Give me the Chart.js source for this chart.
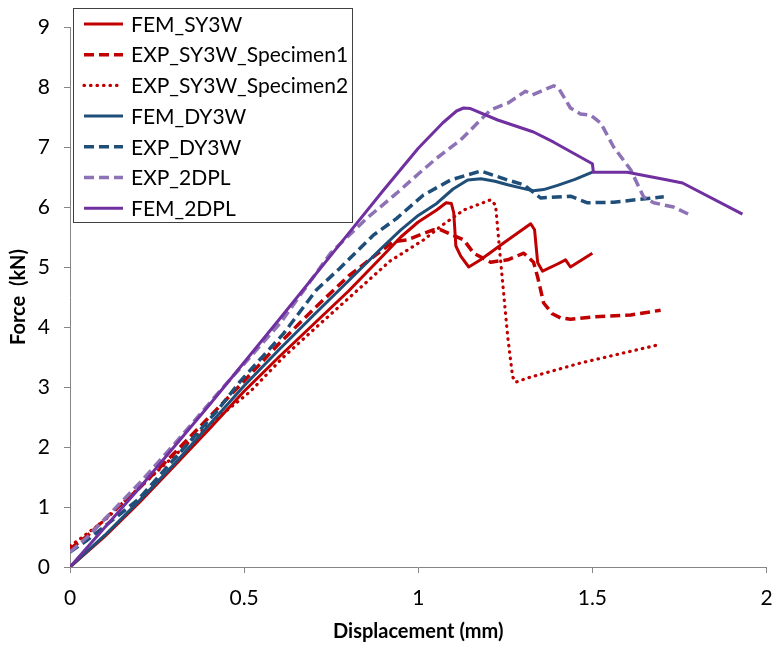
<!DOCTYPE html>
<html>
<head>
<meta charset="utf-8">
<script src="https://cdn.jsdelivr.net/npm/chart.js@4/dist/chart.umd.min.js"></script>
<style>
  html, body { margin: 0; padding: 0; background: #ffffff; }
  #wrap { width: 774px; height: 647px; }
</style>
</head>
<body>
<div id="wrap"><canvas id="c" width="774" height="647"></canvas></div>
<script>
// ---- Data ----
const seriesNames = ["FEM_SY3W", "EXP_SY3W_Specimen1", "EXP_SY3W_Specimen2", "FEM_DY3W", "EXP_DY3W", "EXP_2DPL", "FEM_2DPL"];

const femSY3W_x = [0, 0.1, 0.2, 0.3, 0.4, 0.5, 0.6, 0.7, 0.8, 0.892, 0.95, 1.0, 1.053, 1.08, 1.095, 1.102, 1.108, 1.122, 1.145, 1.179, 1.25, 1.323, 1.334, 1.343, 1.357, 1.40, 1.423, 1.437, 1.50];
const femSY3W_y = [0, 0.51, 1.08, 1.69, 2.30, 2.93, 3.50, 4.05, 4.60, 5.15, 5.50, 5.75, 5.95, 6.07, 6.06, 5.90, 5.35, 5.18, 5.00, 5.12, 5.42, 5.72, 5.62, 5.07, 4.93, 5.05, 5.12, 5.00, 5.23];

const expSY3W1_x = [0, 0.05, 0.1, 0.2, 0.3, 0.4, 0.5, 0.6, 0.7, 0.8, 0.871, 0.928, 0.967, 1.043, 1.065, 1.099, 1.131, 1.159, 1.208, 1.257, 1.303, 1.331, 1.343, 1.36, 1.385, 1.409, 1.437, 1.504, 1.61, 1.696];
const expSY3W1_y = [0.30, 0.52, 0.80, 1.32, 1.90, 2.50, 3.10, 3.72, 4.30, 4.85, 5.17, 5.42, 5.45, 5.62, 5.62, 5.53, 5.45, 5.23, 5.08, 5.12, 5.23, 5.08, 4.83, 4.40, 4.22, 4.15, 4.13, 4.17, 4.20, 4.28];

const expSY3W2_x = [0, 0.02, 0.1, 0.166, 0.318, 0.367, 0.517, 0.613, 0.727, 0.823, 0.919, 1.015, 1.065, 1.131, 1.208, 1.222, 1.237, 1.257, 1.271, 1.28, 1.314, 1.466, 1.687];
const expSY3W2_y = [0.35, 0.43, 0.78, 1.15, 1.95, 2.22, 2.92, 3.50, 4.10, 4.60, 5.10, 5.45, 5.68, 5.95, 6.12, 6.03, 5.07, 3.83, 3.17, 3.08, 3.15, 3.40, 3.70];

const femDY3W_x = [0, 0.1, 0.2, 0.3, 0.4, 0.5, 0.6, 0.7, 0.8, 0.892, 0.95, 1.0, 1.053, 1.10, 1.142, 1.18, 1.22, 1.257, 1.30, 1.331, 1.36, 1.40, 1.45, 1.50];
const femDY3W_y = [0, 0.53, 1.11, 1.72, 2.37, 3.02, 3.62, 4.20, 4.77, 5.30, 5.62, 5.86, 6.06, 6.30, 6.45, 6.47, 6.43, 6.37, 6.31, 6.27, 6.29, 6.36, 6.46, 6.58];

const expDY3W_x = [0, 0.05, 0.195, 0.425, 0.488, 0.613, 0.708, 0.775, 0.871, 0.938, 1.015, 1.093, 1.179, 1.257, 1.303, 1.351, 1.437, 1.486, 1.561, 1.705];
const expDY3W_y = [0.25, 0.45, 1.12, 2.62, 3.09, 3.89, 4.62, 4.98, 5.53, 5.81, 6.20, 6.45, 6.60, 6.45, 6.37, 6.15, 6.18, 6.07, 6.08, 6.17];

const exp2DPL_x = [0, 0.05, 0.1, 0.2, 0.3, 0.433, 0.603, 0.748, 0.85, 0.938, 1.0, 1.05, 1.122, 1.208, 1.257, 1.308, 1.328, 1.389, 1.403, 1.437, 1.466, 1.495, 1.524, 1.561, 1.61, 1.647, 1.676, 1.733, 1.776];
const exp2DPL_y = [0.25, 0.50, 0.80, 1.40, 2.05, 2.95, 4.06, 5.23, 5.80, 6.23, 6.55, 6.80, 7.12, 7.62, 7.73, 7.93, 7.87, 8.02, 7.98, 7.65, 7.55, 7.53, 7.40, 7.00, 6.62, 6.17, 6.07, 6.00, 5.88];

const fem2DPL_x = [0, 0.2, 0.4, 0.6, 0.8, 0.9, 1.0, 1.07, 1.11, 1.13, 1.15, 1.228, 1.331, 1.389, 1.50, 1.503, 1.60, 1.716, 1.759, 1.931];
const fem2DPL_y = [0, 1.32, 2.70, 4.12, 5.56, 6.28, 6.98, 7.40, 7.60, 7.65, 7.64, 7.45, 7.25, 7.08, 6.72, 6.58, 6.58, 6.45, 6.40, 5.88];

const xTickValues = [0, 0.5, 1, 1.5, 2];
const yTickValues = [0, 1, 2, 3, 4, 5, 6, 7, 8, 9];

// ---- Build datasets ----
function pts(xs, ys) { return xs.map((x, i) => ({ x: x, y: ys[i] })); }
const RED = "#C00000", BLUE = "#1F4E79", LPURPLE = "#8E72B6", PURPLE = "#7030A0";
const DASH = [10, 5], DOT = [0.5, 6];
const styles = [
  { color: RED, dash: [], width: 3, cap: "butt" },
  { color: RED, dash: DASH, width: 3.5, cap: "butt" },
  { color: RED, dash: DOT, width: 3.2, cap: "round" },
  { color: BLUE, dash: [], width: 3, cap: "butt" },
  { color: BLUE, dash: DASH, width: 3.5, cap: "butt" },
  { color: LPURPLE, dash: DASH, width: 3.5, cap: "butt" },
  { color: PURPLE, dash: [], width: 3, cap: "butt" }
];
const dataSets = [
  pts(femSY3W_x, femSY3W_y),
  pts(expSY3W1_x, expSY3W1_y),
  pts(expSY3W2_x, expSY3W2_y),
  pts(femDY3W_x, femDY3W_y),
  pts(expDY3W_x, expDY3W_y),
  pts(exp2DPL_x, exp2DPL_y),
  pts(fem2DPL_x, fem2DPL_y)
];
const datasets = dataSets.map((d, i) => ({
  label: seriesNames[i],
  data: d,
  showLine: true,
  borderColor: styles[i].color,
  backgroundColor: styles[i].color,
  borderWidth: styles[i].width,
  borderDash: styles[i].dash,
  borderCapStyle: styles[i].cap,
  borderJoinStyle: "round",
  pointRadius: 0,
  pointHoverRadius: 0,
  tension: 0,
  fill: false,
  order: dataSets.length - 1 - i
}));

const FONT = "Lato, 'Open Sans', sans-serif";

// ---- Custom in-plot legend ----
const boxLegend = {
  id: "boxLegend",
  afterDraw(chart) {
    const ctx = chart.ctx;
    const bx = 73.5, by = 8.5, bw = 279, bh = 214;
    ctx.save();
    ctx.fillStyle = "#ffffff";
    ctx.fillRect(bx, by, bw, bh);
    ctx.strokeStyle = "#404040";
    ctx.lineWidth = 1;
    ctx.strokeRect(bx, by, bw, bh);
    ctx.font = "21px " + FONT;
    ctx.textBaseline = "middle";
    ctx.textAlign = "left";
    chart.data.datasets.forEach((ds, i) => {
      const cy = 24 + i * 30.7;
      ctx.beginPath();
      ctx.strokeStyle = ds.borderColor;
      ctx.lineWidth = ds.borderWidth;
      ctx.lineCap = ds.borderCapStyle;
      ctx.setLineDash(ds.borderDash);
      ctx.moveTo(84, cy);
      ctx.lineTo(123, cy);
      ctx.stroke();
      ctx.setLineDash([]);
      ctx.fillStyle = "#000000";
      ctx.fillText(ds.label, 131, cy + 1);
    });
    ctx.restore();
  }
};

new Chart(document.getElementById("c"), {
  type: "scatter",
  data: { datasets: datasets },
  plugins: [boxLegend],
  options: {
    responsive: false,
    animation: false,
    devicePixelRatio: 1,
    layout: { padding: { top: 27, right: 7.5, left: 0, bottom: 0 } },
    plugins: {
      legend: { display: false },
      tooltip: { enabled: false },
      title: { display: false }
    },
    scales: {
      x: {
        type: "linear",
        min: 0, max: 2,
        afterBuildTicks(scale) { scale.ticks = xTickValues.map(v => ({ value: v })); },
        afterFit(scale) { scale.height = 80; scale.paddingRight = 0; scale.paddingLeft = 0; },
        ticks: {
          color: "#000000",
          font: { family: FONT, size: 21 },
          padding: 13,
          maxRotation: 0,
          callback: v => String(v)
        },
        grid: { display: true, drawOnChartArea: false, drawTicks: true, tickLength: 6, color: "#868686", lineWidth: 1 },
        border: { display: true, color: "#868686", width: 1 },
        title: {
          display: true,
          text: "Displacement (mm)",
          color: "#000000",
          font: { family: FONT, size: 20, weight: "bold" },
          padding: { top: 0, bottom: 3 }
        }
      },
      y: {
        type: "linear",
        min: 0, max: 9,
        afterBuildTicks(scale) { scale.ticks = yTickValues.map(v => ({ value: v })); },
        afterFit(scale) { scale.width = 70; scale.paddingTop = 0; scale.paddingBottom = 0; },
        ticks: {
          color: "#000000",
          font: { family: FONT, size: 21 },
          padding: 14,
          callback: v => String(v)
        },
        grid: { display: true, drawOnChartArea: false, drawTicks: true, tickLength: 6, color: "#868686", lineWidth: 1 },
        border: { display: true, color: "#868686", width: 1 },
        title: {
          display: true,
          text: "Force  (kN)",
          color: "#000000",
          font: { family: FONT, size: 20, weight: "bold" },
          padding: { top: 7, bottom: 0 }
        }
      }
    }
  }
});
</script>
</body>
</html>
